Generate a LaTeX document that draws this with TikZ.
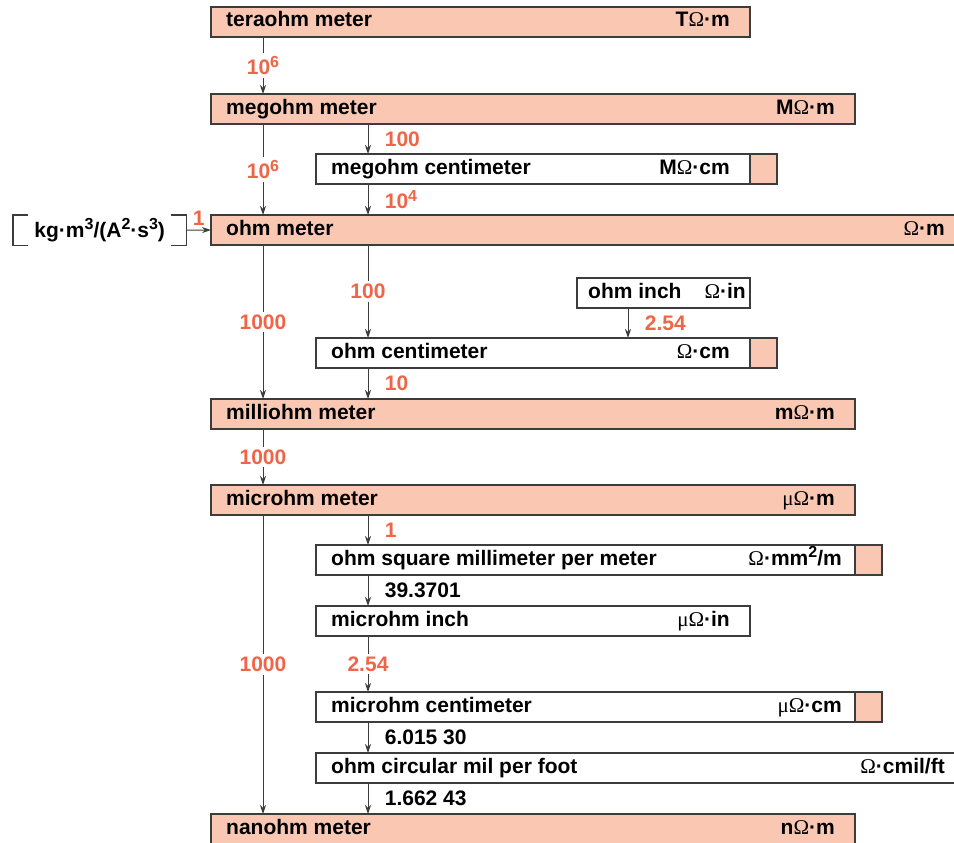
\documentclass[tikz,border=0pt]{standalone}
\usepackage{fontspec}
\setmainfont{Liberation Sans}
\newfontfamily\greekfont{Liberation Serif}
\usetikzlibrary{positioning,arrows.meta}

\definecolor{peach}{RGB}{250,200,178}
\definecolor{factorred}{RGB}{240,100,72}
\definecolor{rim}{RGB}{60,60,60}

\newcommand{\uohm}{{\greekfont\mdseries Ω}}
\newcommand{\umu}{{\greekfont\mdseries μ}}
\newcommand{\supr}[1]{\raisebox{0.36em}{\fontsize{16}{16}\selectfont#1}}

\tikzset{
  unitbox/.style={draw=rim, line width=1.5pt, fill=peach, minimum height=30pt,
    inner sep=0pt, outer sep=0pt, anchor=north west},
  subbox/.style={unitbox, fill=white},
  tab/.style={unitbox, minimum width=27pt, anchor=west},
  uname/.style={anchor=base west, inner sep=0pt},
  usym/.style={anchor=base east, inner sep=0pt},
  fac/.style={text=factorred},
  conv/.style={draw=rim, line width=1pt, -{Stealth[length=9pt,width=6pt]}},
}

\begin{document}
\begin{tikzpicture}[x=1pt,y=-1pt,font=\fontsize{21}{25}\selectfont\bfseries]
\path[use as bounding box, clip] (0,0) rectangle (954,843);

% columns of the conversion arrows
\coordinate (colA) at (263,0);
\coordinate (colB) at (368,0);
\coordinate (colC) at (628,0);

% meter based units
\node[unitbox, minimum width=539pt] at (211,7) (tera) {};
\node[uname] at ([xshift=15pt,yshift=-5pt]tera.west) (tera-n) {teraohm meter};
\node[usym] at ([xshift=-20pt,yshift=-5pt]tera.east) (tera-u) {T\uohm·m};

\node[unitbox, minimum width=644pt] at (211,94) (mega) {};
\node[uname] at ([xshift=15pt,yshift=-5pt]mega.west) (mega-n) {megohm meter};
\node[usym] at ([xshift=-20pt,yshift=-5pt]mega.east) (mega-u) {M\uohm·m};

\node[unitbox, minimum width=754pt] at (211,215) (ohm) {};
\node[uname] at ([xshift=15pt,yshift=-5pt]ohm.west) (ohm-n) {ohm meter};
\node[usym] at ([xshift=-20pt,yshift=-5pt]ohm.east) (ohm-u) {\uohm·m};

\node[unitbox, minimum width=644pt] at (211,399) (milli) {};
\node[uname] at ([xshift=15pt,yshift=-5pt]milli.west) (milli-n) {milliohm meter};
\node[usym] at ([xshift=-20pt,yshift=-5pt]milli.east) (milli-u) {m\uohm·m};

\node[unitbox, minimum width=644pt] at (211,485) (micro) {};
\node[uname] at ([xshift=15pt,yshift=-5pt]micro.west) (micro-n) {microhm meter};
\node[usym] at ([xshift=-20pt,yshift=-5pt]micro.east) (micro-u) {\umu\uohm·m};

\node[unitbox, minimum width=644pt] at (211,814) (nano) {};
\node[uname] at ([xshift=15pt,yshift=-5pt]nano.west) (nano-n) {nanohm meter};
\node[usym] at ([xshift=-20pt,yshift=-5pt]nano.east) (nano-u) {n\uohm·m};

% other units
\node[subbox, minimum width=434pt] at (316,154) (megcm) {};
\node[tab] at (megcm.east) (megcm-tab) {};
\node[uname] at ([xshift=15pt,yshift=-5pt]megcm.west) (megcm-n) {megohm centimeter};
\node[usym] at ([xshift=-20pt,yshift=-5pt]megcm.east) (megcm-u) {M\uohm·cm};

\node[subbox, minimum width=173pt] at (577,278) (ohmin) {};
\node[uname] at ([xshift=11pt,yshift=-5pt]ohmin.west) (ohmin-n) {ohm inch};
\node[usym] at ([xshift=-4pt,yshift=-5pt]ohmin.east) (ohmin-u) {\uohm·in};

\node[subbox, minimum width=434pt] at (316,338) (ohmcm) {};
\node[tab] at (ohmcm.east) (ohmcm-tab) {};
\node[uname] at ([xshift=15pt,yshift=-5pt]ohmcm.west) (ohmcm-n) {ohm centimeter};
\node[usym] at ([xshift=-20pt,yshift=-5pt]ohmcm.east) (ohmcm-u) {\uohm·cm};

\node[subbox, minimum width=539pt] at (316,545) (sqmm) {};
\node[tab] at (sqmm.east) (sqmm-tab) {};
\node[uname] at ([xshift=15pt,yshift=-5pt]sqmm.west) (sqmm-n) {ohm square millimeter per meter};
\node[usym] at ([xshift=-13pt,yshift=-5pt]sqmm.east) (sqmm-u) {\uohm·mm\supr{2}/m};

\node[subbox, minimum width=434pt] at (316,606) (microin) {};
\node[uname] at ([xshift=15pt,yshift=-5pt]microin.west) (microin-n) {microhm inch};
\node[usym] at ([xshift=-20pt,yshift=-5pt]microin.east) (microin-u) {\umu\uohm·in};

\node[subbox, minimum width=539pt] at (316,692) (microcm) {};
\node[tab] at (microcm.east) (microcm-tab) {};
\node[uname] at ([xshift=15pt,yshift=-5pt]microcm.west) (microcm-n) {microhm centimeter};
\node[usym] at ([xshift=-13pt,yshift=-5pt]microcm.east) (microcm-u) {\umu\uohm·cm};

\node[subbox, minimum width=649pt] at (316,753) (cmil) {};
\node[uname] at ([xshift=15pt,yshift=-5pt]cmil.west) (cmil-n) {ohm circular mil per foot};
\node[usym] at ([xshift=-20pt,yshift=-5pt]cmil.east) (cmil-u) {\uohm·cmil/ft};

% base units, in brackets
\node[anchor=north west, minimum width=173pt, minimum height=30pt, inner sep=0pt]
  at (13,215) (base) {kg·m\supr{3}/(A\supr{2}·s\supr{3})};
\draw[rim, line width=1.5pt] ([xshift=15pt]base.north west) -| (base.south west) -- ++(15,0);
\draw[rim, line width=1.5pt] ([xshift=-15pt]base.north east) -| (base.south east) -- ++(-15,0);

% conversion factors
\begin{scope}[every node/.style={fac}]
  \draw[conv] (tera.south -| colA) -- node[fill=white, inner sep=3pt] {10\supr{6}} (mega.north -| colA);
  \draw[conv] (mega.south -| colA) -- node[fill=white, inner sep=3pt] {10\supr{6}} (ohm.north -| colA);
  \draw[conv] (mega.south -| colB) -- node[right=13pt] {100} (megcm.north -| colB);
  \draw[conv] (megcm.south -| colB) -- node[right=13pt] {10\supr{4}} (ohm.north -| colB);
  \draw[conv] (base.east) -- node[above, inner sep=4pt] {1} (ohm.west);
  \draw[conv] (ohm.south -| colA) -- node[fill=white, inner sep=3pt] {1000} (milli.north -| colA);
  \draw[conv] (ohm.south -| colB) -- node[fill=white, inner sep=3pt] {100} (ohmcm.north -| colB);
  \draw[conv] (ohmin.south -| colC) -- node[right=13pt] {2.54} (ohmcm.north -| colC);
  \draw[conv] (ohmcm.south -| colB) -- node[right=13pt] {10} (milli.north -| colB);
  \draw[conv] (milli.south -| colA) -- node[fill=white, inner sep=3pt] {1000} (micro.north -| colA);
  \draw[conv] (micro.south -| colA) -- node[fill=white, inner sep=3pt] {1000} (nano.north -| colA);
  \draw[conv] (micro.south -| colB) -- node[right=13pt] {1} (sqmm.north -| colB);
  \draw[conv] (sqmm.south -| colB) -- node[right=13pt, text=black] {39.3701} (microin.north -| colB);
  \draw[conv] (microin.south -| colB) -- node[fill=white, inner sep=3pt] {2.54} (microcm.north -| colB);
  \draw[conv] (microcm.south -| colB) -- node[right=13pt, text=black] {6.015 30} (cmil.north -| colB);
  \draw[conv] (cmil.south -| colB) -- node[right=13pt, text=black] {1.662 43} (nano.north -| colB);
\end{scope}
\end{tikzpicture}
\end{document}
